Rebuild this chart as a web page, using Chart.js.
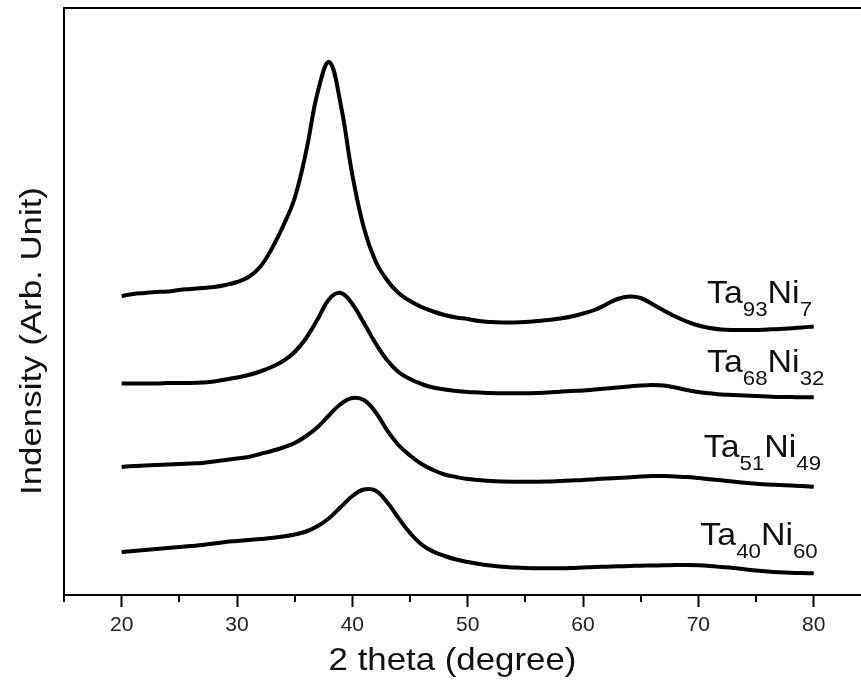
<!DOCTYPE html>
<html>
<head>
<meta charset="utf-8">
<script src="https://cdn.jsdelivr.net/npm/chart.js@4.4.1/dist/chart.umd.min.js"></script>
<style>
html, body { margin: 0; padding: 0; background: #fff; }
#wrap { width: 861px; height: 681px; }
</style>
</head>
<body>
<div id="wrap"><canvas id="xrdChart" width="861" height="681"></canvas></div>
<script>
// 2 theta positions (degree)
const degrees = [20, 21, 22, 23, 24, 25, 26, 27, 28, 29,
    30, 31, 32, 33, 34, 35, 36, 37, 38, 39,
    40, 41, 42, 43, 44, 45, 46, 47, 48, 49,
    50, 51, 52, 53, 54, 55, 56, 57, 58, 59,
    60, 61, 62, 63, 64, 65, 66, 67, 68, 69,
    70, 71, 72, 73, 74, 75, 76, 77, 78, 79, 80];

// intensities (arb. unit, curves already offset as in the figure)
const ta93ni7 = [299, 301, 302, 303, 303.5, 305, 306, 307, 308, 310,
    313, 318, 328, 346, 369, 397, 444, 503, 533, 490,
    420, 367, 334, 315, 302, 294, 288, 283.5, 280, 277.5,
    276, 274, 273, 272.5, 272.5, 273, 274, 275, 276.5, 278.5,
    281.5, 285, 290.5, 296, 298.5, 297, 291, 284.5, 278.5, 273.5,
    269.5, 267, 265.5, 265, 265, 265, 265.5, 266, 266.7, 267.5, 268.5];

const ta68ni32 = [211.5, 211.5, 211.5, 211.5, 212, 212, 212, 212.5, 213.5, 215.5,
    217.5, 220, 223.5, 228, 234, 243, 257, 276, 296, 302,
    291, 272, 252, 235, 223, 216, 211, 207.5, 205.5, 204,
    203, 202.5, 202, 201.7, 201.7, 201.7, 202, 202.5, 203.3, 204,
    204.5, 205.5, 206.5, 207.5, 208.5, 209.5, 210, 209.5, 207.5, 205,
    203, 201.7, 200.5, 200, 199.5, 199, 198.5, 198, 198, 197.7, 197.7];

const ta51ni49 = [128, 129, 129.5, 130, 130.5, 131, 131.5, 132, 133.5, 135,
    136.5, 138, 141, 144, 147.5, 152, 159, 168, 180, 191,
    197, 195, 183, 165, 150, 139.5, 131, 125, 120.5, 118,
    116, 115, 114, 113.5, 113.3, 113.3, 113.3, 113.5, 114, 114.5,
    115, 115.8, 116.5, 117, 117.7, 118.5, 119, 119, 118.5, 118,
    117, 115.8, 114.7, 113.5, 112.3, 111.3, 110.5, 110, 109.5, 109, 108.3];

const ta40ni60 = [43, 44, 45, 46, 47, 48, 49, 50, 51.5, 53,
    54, 55, 56, 57, 58.5, 60.5, 63.5, 69, 77, 88,
    99, 105.5, 104.5, 93, 77, 62, 50.5, 43.5, 39, 35.5,
    33, 31, 29.5, 28.3, 27.5, 26.9, 26.7, 26.7, 26.7, 27,
    27.5, 28, 28.3, 28.7, 29, 29.3, 29.5, 29.7, 29.9, 30,
    29.7, 29, 28, 27, 25.8, 24.6, 23.6, 22.8, 22.2, 21.9, 21.7];

// sample names, split as [element, subscript, element, subscript]
const sampleNames = [
    ['Ta', '93', 'Ni', '7'],
    ['Ta', '68', 'Ni', '32'],
    ['Ta', '51', 'Ni', '49'],
    ['Ta', '40', 'Ni', '60']
];
// where each name starts (degree, intensity of the text baseline)
const nameDeg = [70.75, 70.75, 70.46, 70.17];
const nameInt = [291.7, 223.3, 138.3, 50];

const majorTicks = [20, 30, 40, 50, 60, 70, 80];
const minorTicks = [15, 25, 35, 45, 55, 65, 75];

const FONT = "'Liberation Sans', Arial, sans-serif";
const seriesList = [ta93ni7, ta68ni32, ta51ni49, ta40ni60];

function makeDataset(values) {
    return {
        data: degrees.map((d, i) => ({ x: d, y: values[i] })),
        borderColor: '#000',
        borderWidth: 4,
        borderJoinStyle: 'round',
        pointRadius: 0,
        fill: false,
        tension: 0.4
    };
}

// minor ticks, axis titles and sample names
const decorPlugin = {
    id: 'decor',
    afterDraw(chart) {
        const ctx = chart.ctx;
        const xs = chart.scales.x;
        const ys = chart.scales.y;
        const bottom = chart.chartArea.bottom;

        ctx.save();
        ctx.strokeStyle = '#000';
        ctx.lineWidth = 2;
        minorTicks.forEach(v => {
            const px = Math.round(xs.getPixelForValue(v));
            ctx.beginPath();
            ctx.moveTo(px, bottom);
            ctx.lineTo(px, bottom + 7);
            ctx.stroke();
        });

        ctx.fillStyle = '#111';
        ctx.textBaseline = 'alphabetic';

        // x title
        ctx.save();
        ctx.translate(452.5, 670);
        ctx.scale(1.135, 1);
        ctx.font = '30.7px ' + FONT;
        ctx.textAlign = 'center';
        ctx.fillText('2 theta (degree)', 0, 0);
        ctx.restore();

        // y title
        ctx.save();
        ctx.translate(40.7, 341);
        ctx.rotate(-Math.PI / 2);
        ctx.scale(1.15, 1);
        ctx.font = '30.3px ' + FONT;
        ctx.textAlign = 'center';
        ctx.fillText('Indensity (Arb. Unit)', 0, 0);
        ctx.restore();

        // sample names
        ctx.textAlign = 'left';
        sampleNames.forEach((parts, i) => {
            ctx.save();
            ctx.translate(xs.getPixelForValue(nameDeg[i]), ys.getPixelForValue(nameInt[i]));
            ctx.scale(1.06, 1);
            let x = 0;
            parts.forEach((p, k) => {
                const sub = k % 2 === 1;
                ctx.font = (sub ? '21px ' : '32px ') + FONT;
                ctx.fillText(p, x, sub ? 13 : 0);
                x += ctx.measureText(p).width;
            });
            ctx.restore();
        });
        ctx.restore();
    }
};

document.addEventListener('DOMContentLoaded', () => {
    const ctx = document.getElementById('xrdChart');
    new Chart(ctx, {
        type: 'line',
        data: { datasets: seriesList.map(makeDataset) },
        options: {
            responsive: false,
            animation: false,
            layout: { padding: { left: 64, top: 8, right: 0, bottom: 0 } },
            plugins: { legend: { display: false }, tooltip: { enabled: false } },
            scales: {
                x: {
                    type: 'linear',
                    position: 'bottom',
                    min: 15,
                    max: 84.1,
                    afterFit: s => { s.height = 86; },
                    afterBuildTicks: s => { s.ticks = majorTicks.map(v => ({ value: v })); },
                    ticks: {
                        autoSkip: false,
                        maxRotation: 0,
                        padding: 6,
                        color: '#222',
                        font: { family: FONT, size: 21 },
                        callback: v => v
                    },
                    grid: {
                        drawOnChartArea: false,
                        drawTicks: true,
                        tickLength: 12,
                        tickWidth: 2,
                        tickColor: '#000'
                    },
                    border: { display: true, width: 2, color: '#000' }
                },
                x2: {
                    type: 'linear',
                    axis: 'x',
                    position: 'top',
                    min: 15,
                    max: 84.1,
                    afterFit: s => { s.height = 0; },
                    ticks: { display: false },
                    grid: { drawOnChartArea: false, drawTicks: false },
                    border: { display: true, width: 2, color: '#000' }
                },
                y: {
                    min: 0,
                    max: 587,
                    afterFit: s => { s.width = 0; },
                    ticks: { display: false },
                    grid: { drawOnChartArea: false, drawTicks: false },
                    border: { display: true, width: 2, color: '#000' }
                }
            }
        },
        plugins: [decorPlugin]
    });
});
</script>
</body>
</html>
